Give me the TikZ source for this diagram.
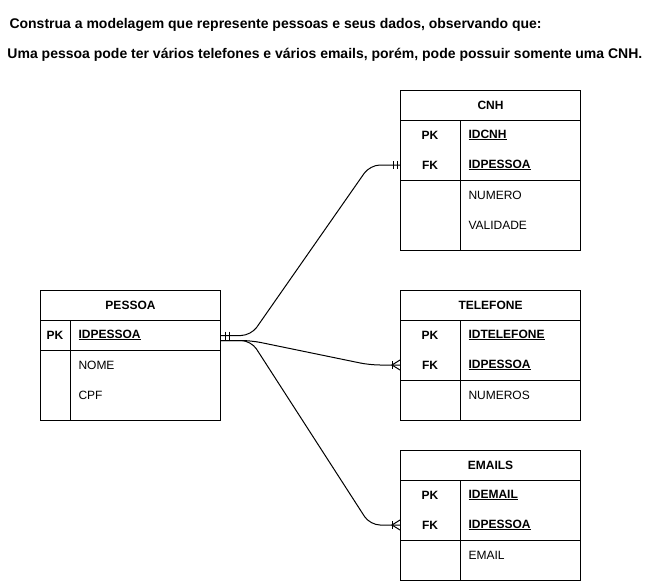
\documentclass[tikz,border=0pt]{standalone}
\usepackage{fontspec}
\setmainfont{Liberation Sans}
\begin{document}
\begin{tikzpicture}[x = 1pt, y = -1pt, line width = 1pt,
		tabela/.style = {draw, anchor = north west, minimum width = 180pt, inner sep = 0pt, font = \bfseries\fontsize{12}{14}\selectfont},
		secao/.style = {draw, anchor = north west, minimum width = 180pt, inner sep = 0pt},
		chave/.style = {inner sep = 0pt, font = \bfseries\fontsize{12}{14}\selectfont},
		campo/.style = {anchor = west, inner sep = 0pt, font = \fontsize{12}{14}\selectfont},
		ligacao/.style = {rounded corners = 10pt}]
	\useasboundingbox (0, 0) rectangle (651, 581);
	% enunciado
	\node[anchor = west, inner sep = 0pt, font = \bfseries\fontsize{14}{16}\selectfont] (linha1) at (9, 25) {Construa a modelagem que represente pessoas e seus dados, observando que:};
	\node[anchor = west, inner sep = 0pt, font = \bfseries\fontsize{14}{16}\selectfont] (linha2) at (7, 55) {Uma pessoa pode ter vários telefones e vários emails, porém, pode possuir somente uma CNH.};
	% PESSOA
	\node[tabela, minimum height = 30pt] (pessoa) at (40, 290) {PESSOA};
	\node[secao, minimum height = 30pt] (pessoakeys) at (40, 320) {};
	\node[secao, minimum height = 70pt] (pessoaattr) at (40, 350) {};
		\draw (70, 320) -- (70, 420);
		\node[chave] (pessoapk) at (55, 335) {PK};
		\node[campo, font = \bfseries\fontsize{12}{14}\selectfont] (pessoaid) at (78, 335) {\underline{IDPESSOA}};
		\node[campo] (pessoanome) at (78, 365) {NOME};
		\node[campo] (pessoacpf) at (78, 395) {CPF};
	% CNH
	\node[tabela, minimum height = 30pt] (cnh) at (400, 90) {CNH};
	\node[secao, minimum height = 60pt] (cnhkeys) at (400, 120) {};
	\node[secao, minimum height = 70pt] (cnhattr) at (400, 180) {};
		\draw (460, 120) -- (460, 250);
		\node[chave] (cnhpk) at (430, 135) {PK};
		\node[chave] (cnhfk) at (430, 165) {FK};
		\node[campo, font = \bfseries\fontsize{12}{14}\selectfont] (cnhid) at (468, 135) {\underline{IDCNH}};
		\node[campo, font = \bfseries\fontsize{12}{14}\selectfont] (cnhpessoa) at (468, 165) {\underline{IDPESSOA}};
		\node[campo] (cnhnumero) at (468, 195) {NUMERO};
		\node[campo] (cnhvalidade) at (468, 225) {VALIDADE};
	% TELEFONE
	\node[tabela, minimum height = 30pt] (telefone) at (400, 290) {TELEFONE};
	\node[secao, minimum height = 60pt] (telefonekeys) at (400, 320) {};
	\node[secao, minimum height = 40pt] (telefoneattr) at (400, 380) {};
		\draw (460, 320) -- (460, 420);
		\node[chave] (telefonepk) at (430, 335) {PK};
		\node[chave] (telefonefk) at (430, 365) {FK};
		\node[campo, font = \bfseries\fontsize{12}{14}\selectfont] (telefoneid) at (468, 335) {\underline{IDTELEFONE}};
		\node[campo, font = \bfseries\fontsize{12}{14}\selectfont] (telefonepessoa) at (468, 365) {\underline{IDPESSOA}};
		\node[campo] (telefonenumeros) at (468, 395) {NUMEROS};
	% EMAILS
	\node[tabela, minimum height = 30pt] (emails) at (400, 450) {EMAILS};
	\node[secao, minimum height = 60pt] (emailskeys) at (400, 480) {};
	\node[secao, minimum height = 40pt] (emailsattr) at (400, 540) {};
		\draw (460, 480) -- (460, 580);
		\node[chave] (emailspk) at (430, 495) {PK};
		\node[chave] (emailsfk) at (430, 525) {FK};
		\node[campo, font = \bfseries\fontsize{12}{14}\selectfont] (emailsid) at (468, 495) {\underline{IDEMAIL}};
		\node[campo, font = \bfseries\fontsize{12}{14}\selectfont] (emailspessoa) at (468, 525) {\underline{IDPESSOA}};
		\node[campo] (emailsemail) at (468, 555) {EMAIL};
	% ligacoes
	\coordinate (saida1) at (pessoakeys.east);
	\coordinate (saida2) at ([yshift = -5pt]pessoakeys.east);
	\coordinate (cnhin) at (cnhkeys.west |- cnhfk);
	\coordinate (telefonein) at (telefonekeys.west |- telefonefk);
	\coordinate (emailsin) at (emailskeys.west |- emailsfk);
	\draw[ligacao] (saida1) -- ++(30, 0) -- ([xshift = -30pt]cnhin) -- (cnhin);
	\draw[ligacao] (saida2) -- ++(30, 0) -- ([xshift = -30pt]telefonein) -- (telefonein);
	\draw[ligacao] (saida2) -- ++(30, 0) -- ([xshift = -30pt]emailsin) -- (emailsin);
	% cardinalidades
	\foreach \x in {4, 8}
		\draw ([xshift = \x pt, yshift = 4pt]saida1) -- ([xshift = \x pt, yshift = -4pt]saida1);
	\foreach \x in {-7, -3}
		\draw ([xshift = \x pt, yshift = 4pt]cnhin) -- ([xshift = \x pt, yshift = -4pt]cnhin);
	\foreach \p in {telefonein, emailsin} {
		\draw ([xshift = -8pt, yshift = 4pt]\p) -- ([xshift = -8pt, yshift = -4pt]\p);
		\draw ([yshift = 5pt]\p) -- ([xshift = -8pt]\p) -- ([yshift = -5pt]\p);
	}
\end{tikzpicture}
\end{document}
